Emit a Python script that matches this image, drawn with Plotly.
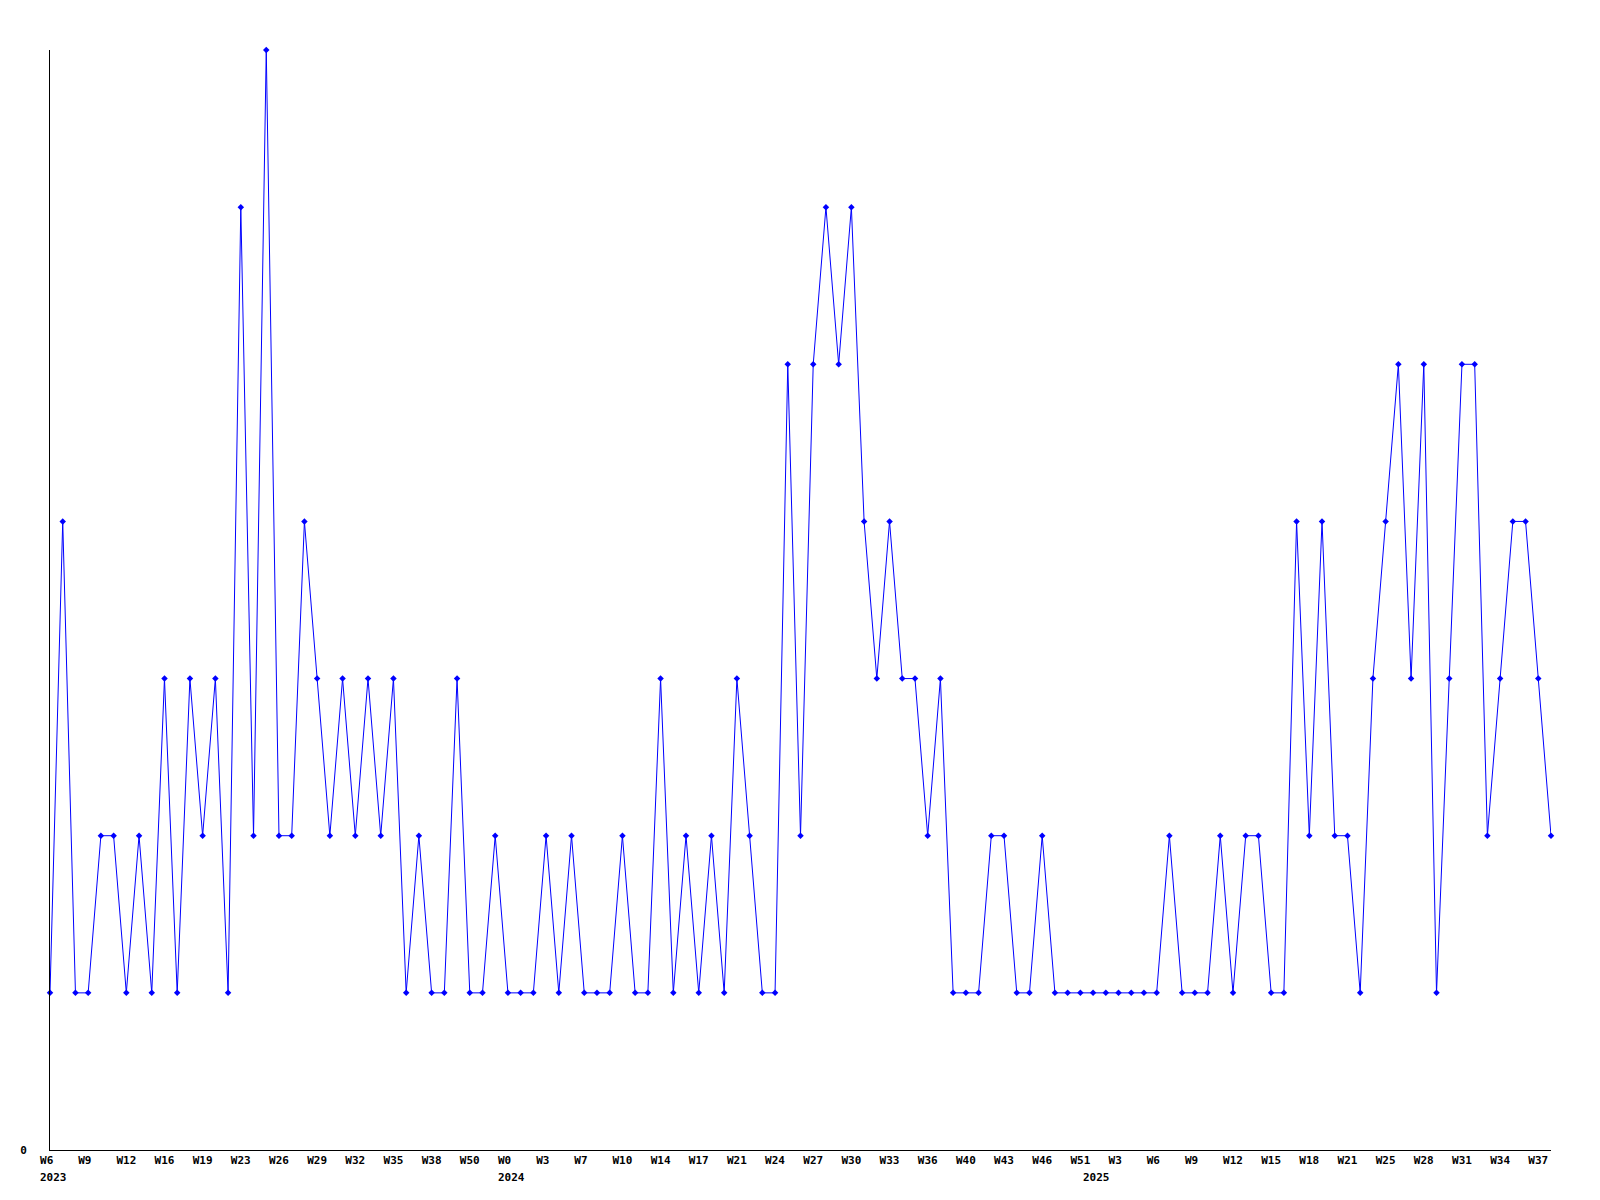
import plotly.graph_objects as go

# weekly counts (one entry per week category)
values = [
    1, 4, 1, 1, 2, 2, 1, 2, 1, 3,
    1, 3, 2, 3, 1, 6, 2, 7, 2, 2,
    4, 3, 2, 3, 2, 3, 2, 3, 1, 2,
    1, 1, 3, 1, 1, 2, 1, 1, 1, 2,
    1, 2, 1, 1, 1, 2, 1, 1, 3, 1,
    2, 1, 2, 1, 3, 2, 1, 1, 5, 2,
    5, 6, 5, 6, 4, 3, 4, 3, 3, 2,
    3, 1, 1, 1, 2, 2, 1, 1, 2, 1,
    1, 1, 1, 1, 1, 1, 1, 1, 2, 1,
    1, 1, 2, 1, 2, 2, 1, 1, 4, 2,
    4, 2, 2, 1, 3, 4, 5, 3, 5, 1,
    3, 5, 5, 2, 3, 4, 4, 3, 2,
]

# week tick labels (every third category)
tick_labels = [
    "W6", "W9", "W12", "W16", "W19", "W23", "W26", "W29", "W32", "W35",
    "W38", "W50", "W0", "W3", "W7", "W10", "W14", "W17", "W21", "W24",
    "W27", "W30", "W33", "W36", "W40", "W43", "W46", "W51", "W3", "W6",
    "W9", "W12", "W15", "W18", "W21", "W25", "W28", "W31", "W34", "W37",
]

# year labels and the category index where each year starts
year_labels = ["2023", "2024", "2025"]
year_starts = [0, 36, 82]

x = list(range(len(values)))
tick_vals = list(range(0, 3 * len(tick_labels), 3))
# pad to width 3 so every label starts at the same offset (monospace)
tick_text = [t.ljust(3, "\u00a0") for t in tick_labels]

FONT = dict(family="DejaVu Sans Mono", size=11, color="black", weight="bold")

fig = go.Figure()
fig.add_trace(go.Scatter(
    x=x, y=values, mode="lines+markers",
    line=dict(color="#0000ff", width=1),
    marker=dict(symbol="diamond", size=5, color="#0000ff"),
    cliponaxis=False,
    showlegend=False,
))

for lab, idx in zip(year_labels, year_starts):
    fig.add_annotation(
        x=idx, y=0, xref="x", yref="paper",
        text=lab, showarrow=False,
        xanchor="left", yanchor="middle",
        xshift=-12, yshift=-27,
        font=FONT,
    )

fig.update_layout(
    width=1600, height=1200,
    margin=dict(l=50, r=49, t=50, b=50),
    paper_bgcolor="white", plot_bgcolor="white",
    xaxis=dict(
        range=[0, len(values) - 1],
        tickmode="array", tickvals=tick_vals, ticktext=tick_text,
        showgrid=False, zeroline=False,
        showline=True, linecolor="black", linewidth=1,
        ticks="", tickfont=FONT, tickangle=0,
    ),
    yaxis=dict(
        range=[0, 7],
        tickmode="array", tickvals=[0], ticktext=["0"],
        showgrid=False, zeroline=False,
        showline=True, linecolor="black", linewidth=1,
        ticks="", tickfont=FONT, ticklabelstandoff=20,
    ),
)

fig.write_html(
    "out.html",
    config={"displayModeBar": False},
    post_script="document.body.style.margin='0';document.body.style.overflow='hidden';",
)
